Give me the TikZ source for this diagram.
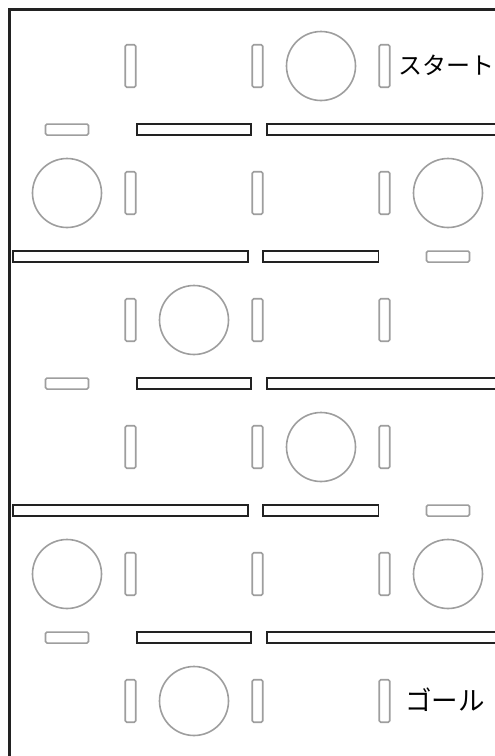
\documentclass[tikz,border=0pt]{standalone}
\usepackage{fontspec}
\newfontfamily\jp{Noto Sans CJK JP}
\definecolor{postgray}{HTML}{9E9E9E}
\definecolor{wallink}{HTML}{222222}
\begin{document}
\begin{tikzpicture}[x=1pt,y=-1pt,
  vpost/.style={rectangle, draw=postgray, line width=1.6pt, rounded corners=1.5pt, inner sep=0pt, minimum width=10.5pt, minimum height=42.5pt},
  hpost/.style={rectangle, draw=postgray, line width=1.6pt, rounded corners=1.5pt, inner sep=0pt, minimum width=43pt, minimum height=11pt},
  hole/.style={circle, draw=postgray, line width=1.6pt, inner sep=0pt, minimum size=69pt},
  wallbar/.style={rectangle, draw=wallink, line width=1.9pt, inner sep=0pt, minimum height=10.7pt},
  label/.style={font=\jp\fontsize{24pt}{28pt}\selectfont, inner sep=0pt, anchor=base west}]
\useasboundingbox (0,0) rectangle (495,756);
\clip (0,0) rectangle (495,756);
\fill[white] (0,0) rectangle (495,756);
% frame
\draw[wallink, line width=2.2pt] (9.5,780) -- (9.5,9.5) -- (520,9.5) -- (520,780);
% vertical posts in every row
\foreach \r in {0,...,5}{
  \foreach \c in {0,1,2}{
    \node[vpost] (v\r\c) at ({130.5+127*\c},{66+127*\r}) {};
  }
}
% holes
\node[hole] (h0) at (321,66) {};
\node[hole] (h1a) at (67,193) {};
\node[hole] (h1b) at (448,193) {};
\node[hole] (h2) at (194,320) {};
\node[hole] (h3) at (321,447) {};
\node[hole] (h4a) at (67,574) {};
\node[hole] (h4b) at (448,574) {};
\node[hole] (h5) at (194,701) {};
% type A wall rows
\foreach \k in {0,2,4}{
  \node[hpost] (ha\k) at (67,{129.6+127*\k}) {};
  \node[wallbar, minimum width=114pt] (wa\k) at (193.7,{129.6+127*\k}) {};
  \node[wallbar, minimum width=238.3pt] (wb\k) at (385.85,{129.6+127*\k}) {};
}
% type B wall rows
\foreach \k in {1,3}{
  \node[wallbar, minimum width=235pt] (wc\k) at (130.2,{129.6+127*\k}) {};
  \node[wallbar, minimum width=115.2pt] (wd\k) at (320.9,{129.6+127*\k}) {};
  \node[hpost] (hb\k) at (448,{129.6+127*\k}) {};
}
% labels
\node[label] (start) at (398,74) {スタート};
\node[label, font=\jp\fontsize{26.5pt}{30pt}\selectfont] (goal) at (405,710) {ゴール};
\end{tikzpicture}
\end{document}
